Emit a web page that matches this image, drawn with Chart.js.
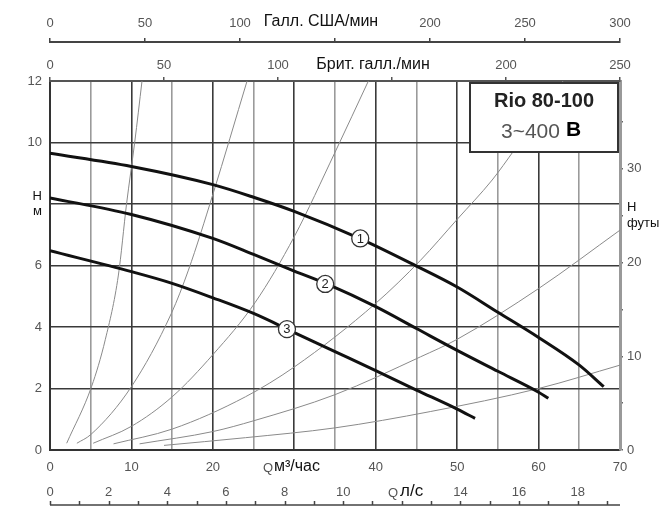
<!DOCTYPE html>
<html>
<head>
<meta charset="utf-8">
<script src="https://cdn.jsdelivr.net/npm/chart.js@4.4.1/dist/chart.umd.min.js"></script>
<style>
    html, body { margin: 0; padding: 0; background: #fff; }
    #chart { display: block; }
</style>
</head>
<body>
<canvas id="chart" width="661" height="513"></canvas>
<script>
// Рабочие кривые насоса (Q м³/ч, H м)
const curve1Q = [0, 10, 20, 25, 30, 38, 45, 50, 55, 60, 65, 68];
const curve1H = [9.65, 9.22, 8.63, 8.22, 7.76, 6.88, 5.98, 5.3, 4.48, 3.66, 2.76, 2.06];
const curve2Q = [0, 10, 20, 25, 30, 34, 40, 45, 50, 55, 60, 61.2];
const curve2H = [8.2, 7.66, 6.88, 6.36, 5.82, 5.4, 4.66, 3.95, 3.24, 2.56, 1.88, 1.68];
const curve3Q = [0, 10, 15, 20, 25, 30, 35, 40, 45, 50, 52.2];
const curve3H = [6.48, 5.8, 5.42, 4.95, 4.44, 3.82, 3.2, 2.58, 1.95, 1.33, 1.03];

// Тонкие серые кривые сети
const sysAQ = [2.05, 5.1, 6.8, 8.4, 9.4, 10.4, 11.3];
const sysAH = [0.22, 2.06, 3.6, 5.69, 8, 10, 12];
const sysBQ = [3.3, 5, 10, 14.9, 17, 20, 24.2];
const sysBH = [0.22, 0.5, 2.06, 4.44, 5.85, 8.31, 12];
const sysCQ = [5.3, 10, 15, 20, 25.2, 30, 35, 39.1];
const sysCH = [0.22, 0.77, 1.73, 3.1, 4.8, 6.94, 9.68, 12];
const sysDQ = [7.8, 15, 24, 30, 40, 45.5, 50, 54.3, 57, 63];
const sysDH = [0.2, 0.68, 1.73, 2.7, 4.77, 6.17, 7.5, 8.78, 9.75, 12];
const sysEQ = [11, 20, 25, 35, 45.5, 50, 60, 70];
const sysEH = [0.2, 0.6, 0.95, 1.8, 3.03, 3.6, 5.25, 7.15];
const sysFQ = [14, 24, 35, 46.7, 60, 70];
const sysFH = [0.15, 0.4, 0.72, 1.25, 2.0, 2.76];

// Метки кривых
const labelNames = ['1', '2', '3'];
const labelQ = [38.1, 33.8, 29.1];
const labelH = [6.88, 5.4, 3.93];

// Деления осей
const flowTicks = [0, 5, 10, 15, 20, 25, 30, 35, 40, 45, 50, 55, 60, 65, 70];
const lpsTicks = [0, 1, 2, 3, 4, 5, 6, 7, 8, 9, 10, 11, 12, 13, 14, 15, 16, 17, 18, 19];
const headTicks = [0, 2, 4, 6, 8, 10, 12];
const feetTicks = [0, 5, 10, 15, 20, 25, 30, 35];
const usTicks = [0, 50, 100, 150, 200, 250, 300];
const impTicks = [0, 50, 100, 150, 200, 250];

const FONT = "'Liberation Sans Narrow', 'Liberation Sans', Arial, sans-serif";
const TITLE_FONT = "'Liberation Sans', Arial, sans-serif";
const TICK_COLOR = '#555';

function toPoints(qs, hs) {
    return qs.map((q, i) => ({ x: q, y: hs[i] }));
}

function pumpSet(qs, hs) {
    return {
        data: toPoints(qs, hs),
        borderColor: '#111',
        borderWidth: 3,
        pointRadius: 0,
        cubicInterpolationMode: 'monotone',
        order: 0
    };
}

function systemSet(qs, hs) {
    return {
        data: toPoints(qs, hs),
        borderColor: '#8a8a8a',
        borderWidth: 1,
        pointRadius: 0,
        cubicInterpolationMode: 'monotone',
        order: 1
    };
}

function setTicks(values) {
    return function(scale) {
        scale.ticks = values.map(v => ({ value: v }));
    };
}

// Подписи осей, рамка с моделью, шкала л/с, кружки с номерами
const extrasPlugin = {
    id: 'extras',
    afterDatasetsDraw(chart) {
        const ctx = chart.ctx;
        const xs = chart.scales.x;
        const ys = chart.scales.y;
        ctx.save();
        for (let i = 0; i < labelNames.length; i++) {
            const px = xs.getPixelForValue(labelQ[i]);
            const py = ys.getPixelForValue(labelH[i]);
            ctx.beginPath();
            ctx.arc(px, py, 8.5, 0, Math.PI * 2);
            ctx.fillStyle = '#fff';
            ctx.fill();
            ctx.lineWidth = 1.3;
            ctx.strokeStyle = '#333';
            ctx.stroke();
            ctx.fillStyle = '#222';
            ctx.font = '13px ' + TITLE_FONT;
            ctx.textAlign = 'center';
            ctx.textBaseline = 'middle';
            ctx.fillText(labelNames[i], px, py + 0.5);
        }
        ctx.restore();
    },
    afterDraw(chart) {
        const ctx = chart.ctx;
        const lps = chart.scales.lps;
        ctx.save();

        // нижняя шкала л/с: линия снизу, штрихи вверх
        const lineY = 505;
        ctx.strokeStyle = '#444';
        ctx.lineWidth = 1.5;
        ctx.beginPath();
        ctx.moveTo(lps.left, lineY);
        ctx.lineTo(lps.right, lineY);
        lps.ticks.forEach(t => {
            const px = Math.round(lps.getPixelForValue(t.value)) + 0.5;
            ctx.moveTo(px, lineY);
            ctx.lineTo(px, lineY - 4);
        });
        ctx.stroke();

        // названия осей
        ctx.textBaseline = 'middle';
        ctx.textAlign = 'center';
        ctx.fillStyle = '#111';
        ctx.font = '16px ' + TITLE_FONT;
        ctx.fillText('Галл. США/мин', 321, 22);
        ctx.fillText('Брит. галл./мин', 373, 65);

        ctx.textAlign = 'left';
        ctx.fillStyle = TICK_COLOR;
        ctx.font = '13px ' + FONT;
        ctx.fillText('Q', 263, 468);
        ctx.fillStyle = '#111';
        ctx.font = '16px ' + TITLE_FONT;
        ctx.fillText('м³/час', 274, 467);

        ctx.fillStyle = TICK_COLOR;
        ctx.font = '13px ' + FONT;
        ctx.fillText('Q', 388, 493);
        ctx.fillStyle = '#111';
        ctx.font = '17px ' + TITLE_FONT;
        ctx.fillText('л/с', 400, 491);

        // рамка с названием модели
        ctx.fillStyle = '#fff';
        ctx.fillRect(470, 83, 148, 69);
        ctx.strokeStyle = '#333';
        ctx.lineWidth = 2;
        ctx.strokeRect(470, 83, 148, 69);

        ctx.textAlign = 'center';
        ctx.fillStyle = '#222';
        ctx.font = 'bold 20px ' + TITLE_FONT;
        ctx.fillText('Rio 80-100', 544, 101);

        ctx.textAlign = 'left';
        ctx.fillStyle = '#555';
        ctx.font = '21px ' + TITLE_FONT;
        ctx.fillText('3~400', 501, 132);
        ctx.fillStyle = '#000';
        ctx.font = 'bold 21px ' + TITLE_FONT;
        ctx.fillText('В', 566, 130);

        ctx.restore();
    }
};

const ctx = document.getElementById('chart').getContext('2d');
Chart.defaults.font.family = FONT;
Chart.defaults.font.size = 13;

new Chart(ctx, {
    type: 'line',
    data: {
        datasets: [
            pumpSet(curve1Q, curve1H),
            pumpSet(curve2Q, curve2H),
            pumpSet(curve3Q, curve3H),
            systemSet(sysAQ, sysAH),
            systemSet(sysBQ, sysBH),
            systemSet(sysCQ, sysCH),
            systemSet(sysDQ, sysDH),
            systemSet(sysEQ, sysEH),
            systemSet(sysFQ, sysFH)
        ]
    },
    options: {
        responsive: false,
        animation: false,
        layout: { padding: 0 },
        plugins: {
            legend: { display: false },
            tooltip: { enabled: false }
        },
        scales: {
            x: {
                type: 'linear',
                position: 'bottom',
                min: 0,
                max: 70,
                afterBuildTicks: setTicks(flowTicks),
                afterFit: s => { s.height = 30; },
                grid: {
                    color: c => (c.tick && c.tick.value % 10 === 0) ? '#3a3a3a' : '#9a9a9a',
                    lineWidth: 1.6,
                    drawTicks: false
                },
                border: { color: '#333', width: 2 },
                ticks: {
                    autoSkip: false,
                    maxRotation: 0,
                    padding: 10,
                    color: TICK_COLOR,
                    callback: v => (v % 10 === 0 && v !== 30) ? v : ''
                }
            },
            lps: {
                type: 'linear',
                position: 'bottom',
                weight: 1,
                min: 0,
                max: 70 / 3.6,
                afterBuildTicks: setTicks(lpsTicks),
                afterFit: s => { s.height = 33; },
                grid: { display: false },
                border: { display: false },
                ticks: {
                    autoSkip: false,
                    maxRotation: 0,
                    padding: -3,
                    color: TICK_COLOR,
                    callback: v => (v % 2 === 0 && v !== 12) ? v : ''
                }
            },
            y: {
                type: 'linear',
                position: 'left',
                min: 0,
                max: 12,
                afterBuildTicks: setTicks(headTicks),
                afterFit: s => { s.width = 50; },
                grid: { color: '#3a3a3a', lineWidth: 1.6, drawTicks: false },
                border: { color: '#333', width: 2 },
                ticks: {
                    padding: 8,
                    color: c => (c.tick && c.tick.value === 8) ? '#111' : TICK_COLOR,
                    callback: v => v === 8 ? ['H', 'м'] : v
                }
            },
            feet: {
                type: 'linear',
                position: 'right',
                min: 0,
                max: 12 / 0.3048,
                afterBuildTicks: setTicks(feetTicks),
                afterFit: s => { s.width = 41; },
                grid: { drawOnChartArea: false, tickLength: 3, color: '#666', lineWidth: 1.5 },
                border: { color: '#999', width: 3 },
                ticks: {
                    padding: 4,
                    color: c => (c.tick && c.tick.value === 25) ? '#111' : TICK_COLOR,
                    callback: v => v === 25 ? ['H', 'футы'] : (v % 10 === 0 ? v : '')
                }
            },
            imp: {
                type: 'linear',
                position: 'top',
                weight: 0,
                min: 0,
                max: 250,
                afterBuildTicks: setTicks(impTicks),
                afterFit: s => { s.height = 39; },
                grid: { drawOnChartArea: false, tickLength: 4, color: '#555', lineWidth: 1.5 },
                border: { color: '#555', width: 2 },
                ticks: {
                    autoSkip: false,
                    maxRotation: 0,
                    padding: 4,
                    color: TICK_COLOR,
                    callback: v => v === 150 ? '' : v
                }
            },
            usg: {
                type: 'linear',
                position: 'top',
                weight: 1,
                min: 0,
                max: 300,
                afterBuildTicks: setTicks(usTicks),
                afterFit: s => { s.height = 42; },
                grid: { drawOnChartArea: false, tickLength: 4, color: '#444', lineWidth: 1.5 },
                border: { color: '#444', width: 2 },
                ticks: {
                    autoSkip: false,
                    maxRotation: 0,
                    padding: 7,
                    color: TICK_COLOR,
                    callback: v => v === 150 ? '' : v
                }
            }
        }
    },
    plugins: [extrasPlugin]
});
</script>
</body>
</html>
